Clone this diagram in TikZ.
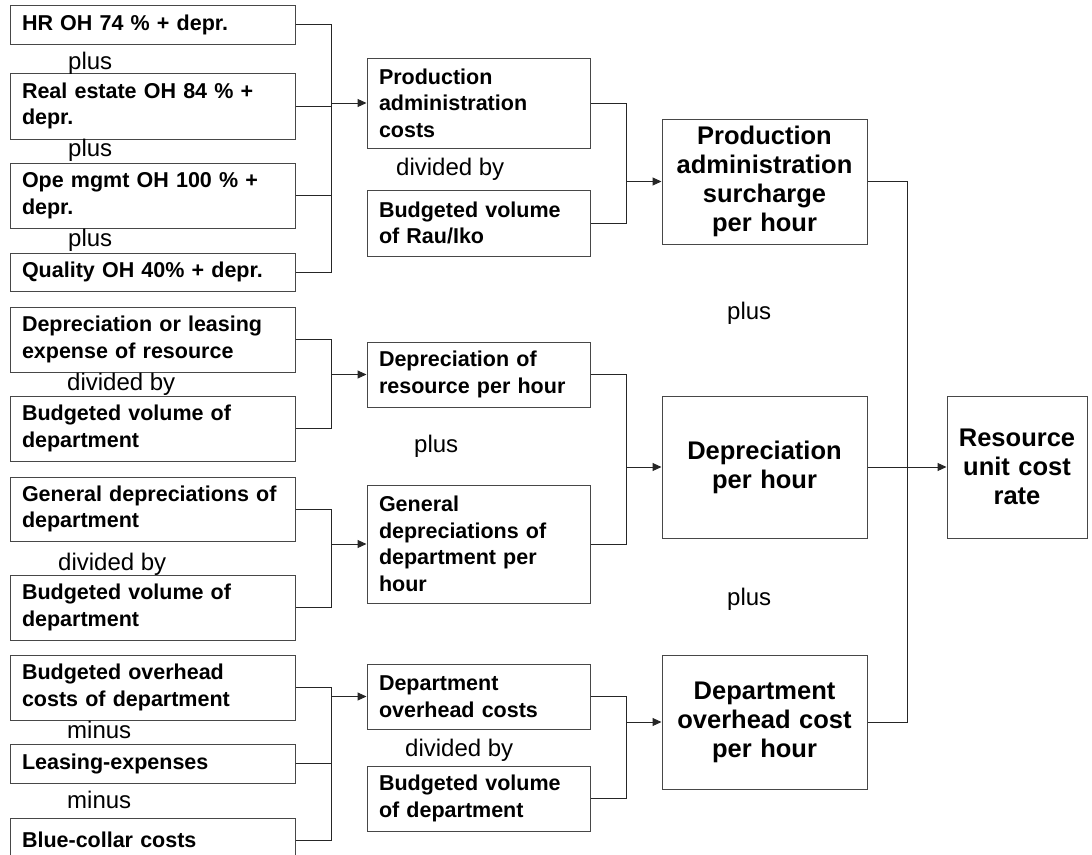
\documentclass[tikz,border=0pt]{standalone}
\usepackage{fontspec}
\setmainfont{Liberation Sans}
\usetikzlibrary{arrows.meta}
\begin{document}
\begin{tikzpicture}[x=1pt,y=-1pt,
  box/.style={draw=black!72, line width=1pt, inner xsep=12pt, inner ysep=0pt,
    align=left, font=\fontsize{21.5}{26.5}\selectfont\bfseries},
  wa/.style={box, text width=261pt},
  wb/.style={box, text width=199pt},
  big/.style={draw=black!72, line width=1pt, inner xsep=4pt, inner ysep=0pt,
    align=center, font=\fontsize{25.5}{29}\selectfont\bfseries},
  lbl/.style={inner sep=0pt, anchor=base west, font=\fontsize{24}{28}\selectfont},
  wire/.style={draw=black!85, line width=1pt},
  arr/.style={wire, -{Triangle[length=9pt,width=8pt]}},
]
\useasboundingbox (0,0) rectangle (1092,854);
\clip (0,0) rectangle (1092,854);

% bus lines between the columns
\coordinate (b1) at (331,0);
\coordinate (b2) at (626,0);
\coordinate (b3) at (907,0);

% first column: inputs
\node[wa, minimum height=39pt] (hr)    at (152.5,24.5) {HR OH 74 \% + depr.};
\node[wa, minimum height=66pt] (re)    at (152.5,106)  {Real estate OH 84 \% +\\depr.};
\node[wa, minimum height=65pt] (ope)   at (152.5,195.5){Ope mgmt OH 100 \% +\\depr.};
\node[wa, minimum height=38pt] (qual)  at (152.5,272)  {Quality OH 40\% + depr.};
\node[wa, minimum height=65pt] (dep)   at (152.5,339.5){Depreciation or leasing\\expense of resource};
\node[wa, minimum height=65pt] (bv1)   at (152.5,428.5){Budgeted volume of\\department};
\node[wa, minimum height=64pt] (gen)   at (152.5,509)  {General depreciations of\\department};
\node[wa, minimum height=65pt] (bv2)   at (152.5,607.5){Budgeted volume of\\department};
\node[wa, minimum height=65pt] (boh)   at (152.5,687.5){Budgeted overhead\\costs of department};
\node[wa, minimum height=39pt] (lease) at (152.5,763.5){Leasing-expenses};
\node[wa, minimum height=44pt] (blue)  at (152.5,840)  {Blue-collar costs};

% operators of the first column
\node[lbl] (op1) at (68,69.5)  {plus};
\node[lbl] (op2) at (68,156)   {plus};
\node[lbl] (op3) at (68,246.5) {plus};
\node[lbl] (op4) at (67,390)   {divided by};
\node[lbl] (op5) at (58,570)   {divided by};
\node[lbl] (op6) at (67,738)   {minus};
\node[lbl] (op7) at (67,808)   {minus};

% second column
\node[wb, minimum height=90pt]  (pac) at (478.5,103)   {Production\\administration\\costs};
\node[wb, minimum height=66pt]  (bvr) at (478.5,223)   {Budgeted volume\\of Rau/Iko};
\node[wb, minimum height=65pt]  (drh) at (478.5,374.5) {Depreciation of\\resource per hour};
\node[wb, minimum height=118pt] (gdh) at (478.5,544)   {General\\depreciations of\\department per\\hour};
\node[wb, minimum height=65pt]  (doc) at (478.5,696.5) {Department\\overhead costs};
\node[wb, minimum height=65pt]  (bvd) at (478.5,798.5) {Budgeted volume\\of department};

\node[lbl] (opA) at (396,175.5) {divided by};
\node[lbl] (opB) at (414,452.5) {plus};
\node[lbl] (opC) at (405,756.5) {divided by};

% third column
\node[big, text width=197pt, minimum height=125pt] (pas) at (764.5,181.5) {Production\\administration\\surcharge\\per hour};
\node[big, text width=197pt, minimum height=142pt] (dph) at (764.5,467)   {Depreciation\\per hour};
\node[big, text width=197pt, minimum height=134pt] (dop) at (764.5,722)   {Department\\overhead cost\\per hour};

\node[lbl] (opR1) at (727,319) {plus};
\node[lbl] (opR2) at (727,605) {plus};

% result
\node[big, text width=132pt, minimum height=142pt] (res) at (1017,467) {Resource\\unit cost\\rate};

% connectors, first column to second
\draw[wire] (hr.east) -- (hr.east -| b1) -- (qual.east -| b1) -- (qual.east);
\draw[wire] (re.east) -- (re.east -| b1);
\draw[wire] (ope.east) -- (ope.east -| b1);
\draw[arr] (pac.west -| b1) -- (pac.west);

\draw[wire] (dep.east) -- (dep.east -| b1) -- (bv1.east -| b1) -- (bv1.east);
\draw[arr] (drh.west -| b1) -- (drh.west);

\draw[wire] (gen.east) -- (gen.east -| b1) -- (bv2.east -| b1) -- (bv2.east);
\draw[arr] (gdh.west -| b1) -- (gdh.west);

\draw[wire] (boh.east) -- (boh.east -| b1) -- (blue.east -| b1) -- (blue.east);
\draw[wire] (lease.east) -- (lease.east -| b1);
\draw[arr] (doc.west -| b1) -- (doc.west);

% second column to third
\draw[wire] (pac.east) -- (pac.east -| b2) -- (bvr.east -| b2) -- (bvr.east);
\draw[arr] (pas.west -| b2) -- (pas.west);

\draw[wire] (drh.east) -- (drh.east -| b2) -- (gdh.east -| b2) -- (gdh.east);
\draw[arr] (dph.west -| b2) -- (dph.west);

\draw[wire] (doc.east) -- (doc.east -| b2) -- (bvd.east -| b2) -- (bvd.east);
\draw[arr] (dop.west -| b2) -- (dop.west);

% third column to result
\draw[wire] (pas.east) -- (pas.east -| b3) -- (dop.east -| b3) -- (dop.east);
\draw[arr] (dph.east) -- (res.west);
\end{tikzpicture}
\end{document}
